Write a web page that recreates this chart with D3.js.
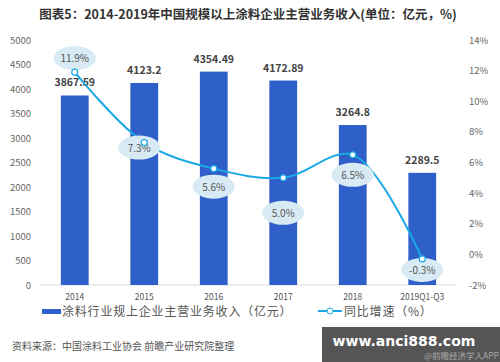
<!DOCTYPE html>
<html>
<head>
<meta charset="utf-8">
<script src="https://cdn.jsdelivr.net/npm/d3@7"></script>
<style>
  body { margin: 0; background: #fff; }
  svg { font-family: "Noto Sans CJK SC", "Noto Sans", sans-serif; }
</style>
</head>
<body>
<div id="chart"></div>
<script>
// data
var years = ["2014", "2015", "2016", "2017", "2018", "2019Q1-Q3"]
var revenue = [3867.59, 4123.2, 4354.49, 4172.89, 3264.8, 2289.5]
var growth = [11.9, 7.3, 5.6, 5.0, 6.5, -0.3]
var leftTicks = [0, 500, 1000, 1500, 2000, 2500, 3000, 3500, 4000, 4500, 5000]
var rightTicks = [-2, 0, 2, 4, 6, 8, 10, 12, 14]

var width = 500, height = 362
var plotTop = 40, plotBottom = 285, plotLeft = 40, plotRight = 457

var svg = d3.select("#chart").append("svg")
    .attr("width", width)
    .attr("height", height)

// title
svg.append("text")
    .attr("x", 248).attr("y", 19)
    .attr("text-anchor", "middle")
    .attr("font-size", 12.5)
    .attr("font-weight", "bold")
    .attr("fill", "#333")
    .text("图表5：2014-2019年中国规模以上涂料企业主营业务收入(单位：亿元，%)")

var x = d3.scaleBand().domain(years).range([plotLeft, plotRight]).paddingInner(0.6).paddingOuter(0.3)
var xc = d => x(d) + x.bandwidth() / 2
var y = d3.scaleLinear().domain([0, 5000]).range([plotBottom, plotTop])
var y2 = d3.scaleLinear().domain([-2, 14]).range([plotBottom, plotTop])

// left axis labels
svg.append("g").selectAll("text")
    .data(leftTicks).enter().append("text")
    .attr("x", 31).attr("y", d => y(d) + 3.5)
    .attr("text-anchor", "end")
    .attr("font-size", 9.5)
    .attr("fill", "#666")
    .text(d => d)

// right axis labels
svg.append("g").selectAll("text")
    .data(rightTicks).enter().append("text")
    .attr("x", 469).attr("y", d => y2(d) + 3.5)
    .attr("text-anchor", "start")
    .attr("font-size", 9.5)
    .attr("fill", "#666")
    .text(d => d + "%")

// baseline
svg.append("line")
    .attr("x1", plotLeft).attr("x2", plotRight)
    .attr("y1", plotBottom).attr("y2", plotBottom)
    .attr("stroke", "#ddd")

// category labels
svg.append("g").selectAll("text")
    .data(years).enter().append("text")
    .attr("x", d => xc(d)).attr("y", 300)
    .attr("text-anchor", "middle")
    .attr("font-size", 8.5)
    .attr("fill", "#555")
    .text(d => d)

// bars
svg.append("g").selectAll("rect")
    .data(revenue).enter().append("rect")
    .attr("x", (d, i) => x(years[i]))
    .attr("width", x.bandwidth())
    .attr("y", d => y(d))
    .attr("height", d => plotBottom - y(d))
    .attr("fill", "#2f5fc8")

// bar value labels
svg.append("g").selectAll("text")
    .data(revenue).enter().append("text")
    .attr("x", (d, i) => xc(years[i]))
    .attr("y", d => y(d) - 9)
    .attr("text-anchor", "middle")
    .attr("font-size", 10.5)
    .attr("font-weight", "bold")
    .attr("fill", "#444")
    .text(d => d)

// growth line
var line = d3.line()
    .x((d, i) => xc(years[i]))
    .y(d => y2(d))
    .curve(d3.curveCatmullRom.alpha(0.5))

svg.append("path")
    .datum(growth)
    .attr("d", line)
    .attr("fill", "none")
    .attr("stroke", "#1aa9e4")
    .attr("stroke-width", 2)

// label bubbles (offsets relative to the point)
var labelDx = [0, -5, 0, 0, 0, 0]
var labelDy = [-14, 5, 18, 35, 20, 11]
var lbl = svg.append("g").selectAll("g")
    .data(growth).enter().append("g")
    .attr("transform", (d, i) => "translate(" + (xc(years[i]) + labelDx[i]) + "," + (y2(d) + labelDy[i]) + ")")
lbl.append("ellipse")
    .attr("rx", 21).attr("ry", 12)
    .attr("fill", "#d8eaf3")
lbl.append("text")
    .attr("y", 4)
    .attr("text-anchor", "middle")
    .attr("font-size", 10)
    .attr("fill", "#555")
    .text(d => d.toFixed(1) + "%")

svg.append("g").selectAll("circle")
    .data(growth).enter().append("circle")
    .attr("cx", (d, i) => xc(years[i]))
    .attr("cy", d => y2(d))
    .attr("r", 3)
    .attr("fill", "#fff")
    .attr("stroke", "#1aa9e4")
    .attr("stroke-width", 1.2)

// legend
svg.append("rect")
    .attr("x", 42).attr("y", 309).attr("width", 19).attr("height", 5)
    .attr("fill", "#2f5fc8")
svg.append("text")
    .attr("x", 62).attr("y", 316)
    .attr("font-size", 12)
    .attr("letter-spacing", 0.8)
    .attr("fill", "#555")
    .text("涂料行业规上企业主营业务收入（亿元）")
svg.append("line")
    .attr("x1", 318).attr("x2", 342).attr("y1", 311).attr("y2", 311)
    .attr("stroke", "#1aa9e4").attr("stroke-width", 2)
svg.append("circle")
    .attr("cx", 330).attr("cy", 311).attr("r", 3)
    .attr("fill", "#fff").attr("stroke", "#1aa9e4")
svg.append("text")
    .attr("x", 344).attr("y", 316)
    .attr("font-size", 12)
    .attr("letter-spacing", 0.8)
    .attr("fill", "#555")
    .text("同比增速（%）")

// source
svg.append("text")
    .attr("x", 12).attr("y", 350)
    .attr("font-size", 10)
    .attr("fill", "#555")
    .text("资料来源：中国涂料工业协会 前瞻产业研究院整理")

// site stamp at bottom right
svg.append("rect")
    .attr("x", 322).attr("y", 327).attr("width", 178).attr("height", 35)
    .attr("fill", "#555")
svg.append("text")
    .attr("x", 404).attr("y", 346)
    .attr("text-anchor", "middle")
    .attr("font-family", "DejaVu Sans")
    .attr("font-size", 14)
    .attr("font-weight", "bold")
    .attr("fill", "#fff")
    .text("www.anci888.com")
svg.append("text")
    .attr("x", 499).attr("y", 359)
    .attr("text-anchor", "end")
    .attr("font-size", 8.5)
    .attr("fill", "#aaa")
    .text("@前瞻经济学人APP")
</script>
</body>
</html>
